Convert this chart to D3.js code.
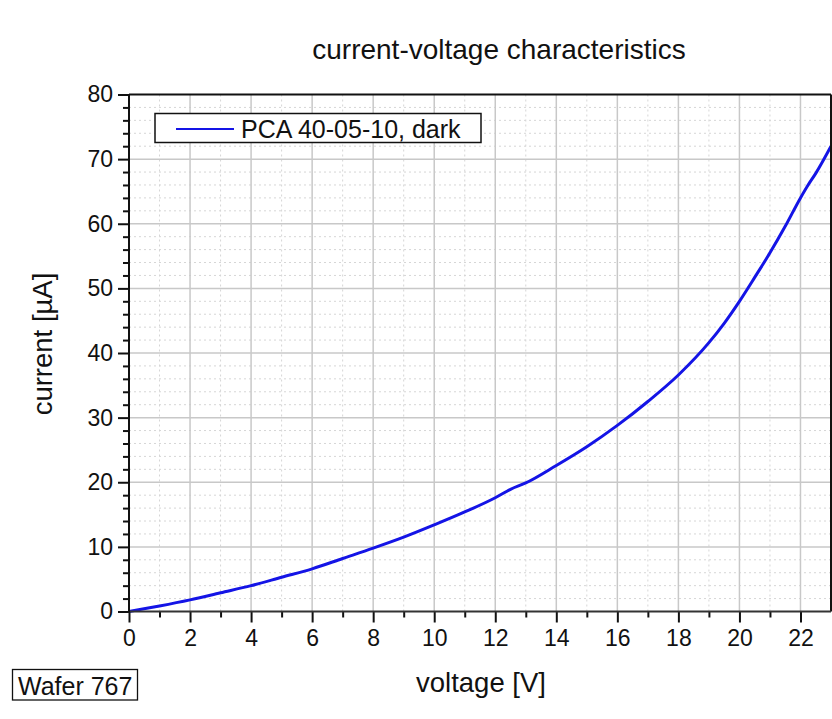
<!DOCTYPE html>
<html>
<head>
<meta charset="utf-8">
<script src="https://cdn.jsdelivr.net/npm/d3@7"></script>
<style>
  body { margin: 0; background: #fff; }
  svg { font-family: "Liberation Sans", Arial, sans-serif; }
</style>
</head>
<body>
<svg id="chart"></svg>
<script>
const voltage = [0, 1, 2, 3, 4, 5, 6, 7, 8, 9, 10, 11, 12, 12.5, 13, 14, 15, 16, 17, 18, 19, 19.5, 20, 20.5, 21, 21.5, 22, 22.25, 22.5, 23];
const current = [0, 0.85, 1.8, 2.9, 4.0, 5.3, 6.6, 8.2, 9.8, 11.5, 13.4, 15.4, 17.6, 18.9, 19.9, 22.6, 25.5, 28.8, 32.5, 36.6, 41.6, 44.6, 48.0, 51.7, 55.5, 59.6, 64.0, 66.0, 67.8, 72.0];
const xTicks = [0, 2, 4, 6, 8, 10, 12, 14, 16, 18, 20, 22];
const yTicks = [0, 10, 20, 30, 40, 50, 60, 70, 80];
const seriesName = 'PCA 40-05-10, dark';

const W = 832, H = 719;
const margin = { top: 94.5, right: 1, bottom: 107.5, left: 129 },
    width = W - margin.left - margin.right,
    height = H - margin.top - margin.bottom;

const svg = d3.select('#chart').attr('width', W).attr('height', H);
const g = svg.append('g')
    .attr('transform', 'translate(' + margin.left + ',' + margin.top + ')');

const x = d3.scaleLinear().domain([0, 23]).range([0, width]);
const y = d3.scaleLinear().domain([0, 80]).range([height, 0]);

const xMinor = d3.range(1, 23, 2);
const yMinor = d3.range(0, 80, 2).filter(v => v % 10 !== 0);

// minor grid (dotted)
g.append('g').selectAll('line').data(xMinor).enter().append('line')
    .attr('x1', d => x(d)).attr('x2', d => x(d)).attr('y1', 0).attr('y2', height)
    .attr('stroke', '#d6d6d6').attr('stroke-dasharray', '2,3');
g.append('g').selectAll('line').data(yMinor).enter().append('line')
    .attr('y1', d => y(d)).attr('y2', d => y(d)).attr('x1', 0).attr('x2', width)
    .attr('stroke', '#d6d6d6').attr('stroke-dasharray', '2,3');

// major grid
g.append('g').selectAll('line').data(xTicks.slice(1)).enter().append('line')
    .attr('x1', d => x(d)).attr('x2', d => x(d)).attr('y1', 0).attr('y2', height)
    .attr('stroke', '#c8c8c8').attr('stroke-width', 1.5);
g.append('g').selectAll('line').data(yTicks.slice(1, -1)).enter().append('line')
    .attr('y1', d => y(d)).attr('y2', d => y(d)).attr('x1', 0).attr('x2', width)
    .attr('stroke', '#c8c8c8').attr('stroke-width', 1.5);

// curve
const line = d3.line()
    .x((d, i) => x(voltage[i]))
    .y(d => y(d))
    .curve(d3.curveMonotoneX);
g.append('path')
    .datum(current)
    .attr('d', line)
    .attr('fill', 'none')
    .attr('stroke', '#1414e6')
    .attr('stroke-width', 3);

// frame: top and right
g.append('line').attr('x1', 0).attr('x2', width).attr('y1', 0).attr('y2', 0)
    .attr('stroke', '#111').attr('stroke-width', 2);
g.append('line').attr('x1', width).attr('x2', width).attr('y1', 0).attr('y2', height)
    .attr('stroke', '#111').attr('stroke-width', 2);

// minor ticks
const xMinorAxis = g.append('g')
    .attr('transform', 'translate(0,' + height + ')')
    .call(d3.axisBottom(x).tickValues(xMinor).tickSize(6).tickFormat(''));
const yMinorAxis = g.append('g')
    .call(d3.axisLeft(y).tickValues(yMinor).tickSize(6).tickFormat(''));

// major axes
const xAxis = g.append('g')
    .attr('transform', 'translate(0,' + height + ')')
    .call(d3.axisBottom(x).tickValues(xTicks).tickSize(11).tickSizeOuter(0).tickPadding(7));
const yAxis = g.append('g')
    .call(d3.axisLeft(y).tickValues(yTicks).tickSize(11).tickSizeOuter(0).tickPadding(5));

[xMinorAxis, yMinorAxis, xAxis, yAxis].forEach(a => {
    a.select('.domain').remove();
    a.selectAll('.tick line').attr('stroke', '#111').attr('stroke-width', 2);
});
[xAxis, yAxis].forEach(a => {
    a.selectAll('text').attr('font-size', 23).attr('fill', '#111')
        .attr('font-family', '"Liberation Sans", Arial, sans-serif');
});
g.append('line').attr('x1', -1).attr('x2', width).attr('y1', height).attr('y2', height)
    .attr('stroke', '#333').attr('stroke-width', 2);
g.append('line').attr('x1', 0).attr('x2', 0).attr('y1', 0).attr('y2', height + 1)
    .attr('stroke', '#111').attr('stroke-width', 2);

// title and axis labels
svg.append('text')
    .text('current-voltage characteristics')
    .attr('x', 499).attr('y', 59)
    .attr('text-anchor', 'middle').attr('font-size', 28).attr('fill', '#111');
svg.append('text')
    .text('voltage [V]')
    .attr('x', 481).attr('y', 692)
    .attr('text-anchor', 'middle').attr('font-size', 27.5).attr('fill', '#111');
svg.append('text')
    .text('current [µA]')
    .attr('transform', 'translate(52,344) rotate(-90)')
    .attr('text-anchor', 'middle').attr('font-size', 27.5).attr('fill', '#111');

// legend
const legend = svg.append('g');
legend.append('rect')
    .attr('x', 155).attr('y', 113.5).attr('width', 326).attr('height', 29)
    .attr('fill', '#fff').attr('stroke', '#111').attr('stroke-width', 1.5);
legend.append('line')
    .attr('x1', 176).attr('x2', 234).attr('y1', 129).attr('y2', 129)
    .attr('stroke', '#1414e6').attr('stroke-width', 2);
legend.append('text')
    .text(seriesName)
    .attr('x', 241).attr('y', 137.5)
    .attr('font-size', 25).attr('fill', '#111');

// wafer label
svg.append('rect')
    .attr('x', 12.5).attr('y', 669.5).attr('width', 125).attr('height', 30.5)
    .attr('fill', '#fff').attr('stroke', '#111').attr('stroke-width', 1.3);
svg.append('text')
    .text('Wafer 767')
    .attr('x', 18).attr('y', 694.5)
    .attr('font-size', 25).attr('fill', '#111');
</script>
</body>
</html>
